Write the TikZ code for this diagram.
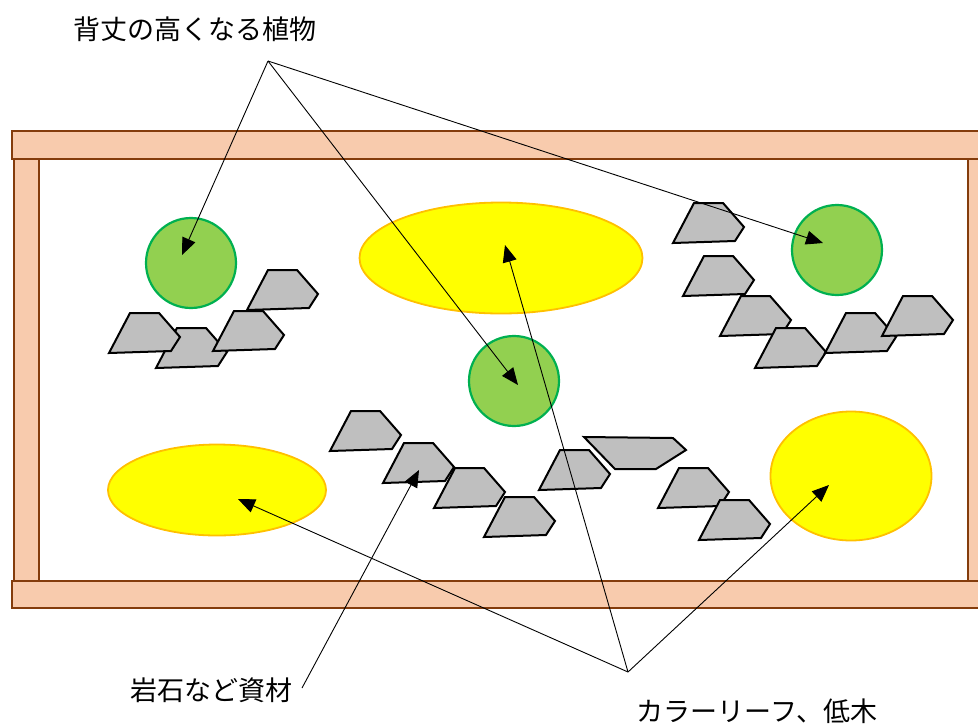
\documentclass[tikz,border=0pt]{standalone}
\usepackage{fontspec}
\newfontfamily\jp{Noto Sans CJK JP}
\usetikzlibrary{arrows.meta,shapes.geometric}
\definecolor{woodfill}{HTML}{F8CBAD}
\definecolor{woodline}{HTML}{843C0C}
\definecolor{leaf}{HTML}{92D050}
\definecolor{leafline}{HTML}{00B050}
\definecolor{sunfill}{HTML}{FFFF00}
\definecolor{sunline}{HTML}{FFC000}
\definecolor{stone}{HTML}{BFBFBF}
\tikzset{
  wood/.style={fill=woodfill,draw=woodline,line width=1.5pt},
  plant/.style={circle,fill=leaf,draw=leafline,line width=2.2pt,minimum size=90pt,inner sep=0pt},
  colorleaf/.style={ellipse,fill=sunfill,draw=sunline,line width=1.8pt,inner sep=0pt},
  rockstyle/.style={fill=stone,draw=black,line width=2pt,line join=miter},
  lbl/.style={font=\jp\fontsize{27pt}{30pt}\selectfont,inner sep=0pt},
  pointer/.style={draw=black,line width=0.9pt,-{Triangle[length=17pt,width=14pt]}},
  plain/.style={draw=black,line width=0.9pt}
}
\newcommand\rockat[2]{\draw[rockstyle] (#1,#2) -- ++(21,-40) -- ++(29,0) -- ++(21,24) -- ++(-9,14) -- cycle;}
\begin{document}
\begin{tikzpicture}[x=1pt,y=-1pt]
\useasboundingbox (0,0) rectangle (978,724);
\begin{scope}
\clip (0,0) rectangle (978,724);
% frame
\draw[wood] (14,159) rectangle (39,581);
\draw[wood] (968,159) rectangle (995,581);
\draw[wood] (12,131) rectangle (995,159);
\draw[wood] (12,581) rectangle (995,608);
\end{scope}
% plants
\node[plant] (c1) at (191,263) {};
\node[plant] (c2) at (837,250) {};
\node[plant] (c3) at (514,381) {};
% color leaf areas
\node[colorleaf,minimum width=283pt,minimum height=111pt] (e1) at (501,258) {};
\node[colorleaf,minimum width=218pt,minimum height=91pt] (e2) at (217,490) {};
\node[colorleaf,minimum width=161pt,minimum height=129pt] (e3) at (851,476) {};
% rocks left
\rockat{156}{368}
\rockat{247}{310}
\rockat{109}{353}
\rockat{213}{351}
% rocks middle
\rockat{330}{451}
\rockat{383}{483}
\rockat{434}{508}
\rockat{484}{537}
\rockat{539}{490}
\draw[rockstyle] (584,437) -- (673,438) -- (686,450) -- (656,469) -- (615,469) -- cycle;
\rockat{658}{508}
\rockat{699}{540}
% rocks right
\rockat{673}{243}
\rockat{683}{296}
\rockat{720}{336}
\rockat{755}{368}
\rockat{825}{353}
\rockat{882}{336}
% labels
\node[lbl] (tall) at (195,29) {背丈の高くなる植物};
\node[lbl] (stonelbl) at (211,690) {岩石など資材};
\node[lbl] (leaflbl) at (757,711) {カラーリーフ、低木};
% pointer hubs and tips
\coordinate (hubT) at (268,61);
\coordinate (hubB) at (628,672);
\coordinate (hubS) at (302,688);
\coordinate (tc1) at (182,255);
\coordinate (tc2) at (823,243);
\coordinate (tc3) at (518,385);
\coordinate (te1) at (505,245);
\coordinate (te2) at (238,499);
\coordinate (te3) at (829,485);
\coordinate (trock) at (419,470);
\draw[pointer] (hubT) -- (tc1);
\draw[pointer] (hubT) -- (tc3);
\draw[pointer] (hubT) -- (tc2);
\draw[pointer] (hubB) -- (te2);
\draw[pointer] (hubB) -- (te1);
\draw[pointer] (hubB) -- (te3);
\draw[pointer] (hubS) -- (trock);
\end{tikzpicture}
\end{document}
